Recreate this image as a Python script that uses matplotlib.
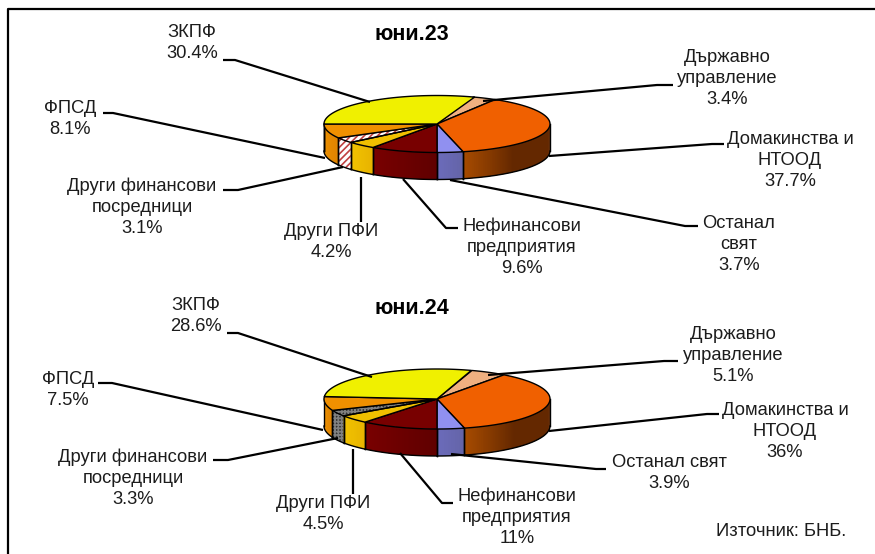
import numpy as np
import matplotlib
matplotlib.use('Agg')
import matplotlib.pyplot as plt

plt.rcParams['font.family'] = ['Liberation Sans', 'DejaVu Sans']

# Slices run clockwise, starting at the government slice
categories = ['Държавно управление', 'Домакинства и НТООД', 'Останал свят',
              'Нефинансови предприятия', 'Други ПФИ',
              'Други финансови посредници', 'ФПСД', 'ЗКПФ']
values_23 = [3.4, 37.7, 3.7, 9.6, 4.2, 3.1, 8.1, 30.4]
values_24 = [5.1, 36.0, 3.9, 11.0, 4.5, 3.3, 7.5, 28.6]
value_labels_23 = ['3.4%', '37.7%', '3.7%', '9.6%', '4.2%', '3.1%', '8.1%', '30.4%']
value_labels_24 = ['5.1%', '36%', '3.9%', '11%', '4.5%', '3.3%', '7.5%', '28.6%']

top_colors = ['#F0B080', '#F06000', '#9090F0', '#780000', '#F0C000', '#FFFFFF', '#F09000', '#F0F000']
wall_left = ['#F0B080', '#A84C00', '#6C6CBC', '#7A0000', '#F2C400', '#FFFFFF', '#F09400', '#F0F000']
wall_right = ['#F0B080', '#642800', '#6464A8', '#600000', '#E8B400', '#FFFFFF', '#E08400', '#F0F000']

CX = 437
RX = 113
DEPTH = 27


def point(angle, cy, ry, drop=0):
    # angle in degrees clockwise from the top of the pie
    a = np.radians(angle)
    return CX + RX * np.sin(a), cy - ry * np.cos(a) + drop


def arc(a0, a1, cy, ry, drop=0):
    angles = np.linspace(a0, a1, max(int(abs(a1 - a0) * 2), 2))
    return point(angles, cy, ry, drop)


def draw_pie(ax, values, cy, ry, start, hatch_face, hatch_edge, hatch):
    edges = start + np.cumsum([0] + values) * 3.6

    # walls, only the front half can be seen
    for i in range(len(values)):
        a0 = max(edges[i], 90)
        a1 = min(edges[i + 1], 270)
        if a1 <= a0:
            continue
        if i == 5:
            x, y = arc(a0, a1, cy, ry)
            x2, y2 = arc(a1, a0, cy, ry, DEPTH)
            ax.fill(np.r_[x, x2], np.r_[y, y2], facecolor=hatch_face, edgecolor=hatch_edge,
                    hatch=hatch, linewidth=0, zorder=2)
        else:
            steps = np.linspace(a0, a1, int(a1 - a0) + 2)
            left = np.array(matplotlib.colors.to_rgb(wall_left[i]))
            right = np.array(matplotlib.colors.to_rgb(wall_right[i]))
            for s0, s1 in zip(steps[:-1], steps[1:]):
                # households reach the dark colour quickly, the others fade evenly
                t = (a1 - s0) / (a1 - a0)
                if i == 1:
                    t = min(t * 2.6, 1)
                color = left * (1 - t) + right * t
                if i != 1:
                    t = (s0 - a0) / (a1 - a0)
                    color = right * (1 - t) + left * t
                x, y = arc(s0, s1 + 1.5, cy, ry)
                x2, y2 = arc(s1 + 1.5, s0, cy, ry, DEPTH)
                ax.fill(np.r_[x, x2], np.r_[y, y2], color=color, linewidth=0, zorder=2)
        x, y = arc(a0, a1, cy, ry, DEPTH)
        ax.plot(x, y, color='black', lw=1, zorder=3)
        for a in (a0, a1):
            x, y = point(a, cy, ry)
            ax.plot([x, x], [y, y + DEPTH], color='black', lw=1, zorder=3)

    # top surface
    for i in range(len(values)):
        x, y = arc(edges[i], edges[i + 1], cy, ry)
        xs = np.r_[CX, x]
        ys = np.r_[cy, y]
        if i == 5:
            ax.fill(xs, ys, facecolor=hatch_face, edgecolor=hatch_edge, hatch=hatch,
                    linewidth=0, zorder=4)
            ax.fill(xs, ys, facecolor='none', edgecolor='black', linewidth=1, zorder=5)
        else:
            ax.fill(xs, ys, facecolor=top_colors[i], edgecolor='black', linewidth=1,
                    joinstyle='round', zorder=5)


def draw_leaders(ax, leaders):
    for xs, ys in leaders:
        ax.plot(xs, ys, color='black', lw=1.6, solid_capstyle='butt', zorder=6)


def draw_labels(ax, names, numbers, places):
    for name, number, (x, y) in zip(names, numbers, places):
        lines = name.split('\n') + [number]
        for k, line in enumerate(lines):
            ax.text(x, y + k * 21, line, ha='center', va='center', fontsize=13.2,
                    color='#1c1c1c', zorder=7)


names_23 = ['Държавно\nуправление', 'Домакинства и\nНТООД', 'Останал\nсвят',
            'Нефинансови\nпредприятия', 'Други ПФИ',
            'Други финансови\nпосредници', 'ФПСД', 'ЗКПФ']
names_24 = ['Държавно\nуправление', 'Домакинства и\nНТООД', 'Останал свят',
            'Нефинансови\nпредприятия', 'Други ПФИ',
            'Други финансови\nпосредници', 'ФПСД', 'ЗКПФ']

places_23 = [(727, 57.5), (790, 139.5), (739, 223.5), (522, 226.5), (331, 231.5),
             (142, 186.5), (70, 108.5), (192, 32.5)]
places_24 = [(733, 334.5), (785, 410.5), (669, 462.5), (517, 496.5), (323, 503.5),
             (133, 457.5), (68, 379.5), (196, 305.5)]

leaders_23 = [([483, 657, 673], [101, 85, 85]), ([549, 712, 724], [156, 144, 144]),
              ([450, 685, 698], [180, 226, 226]), ([403, 446, 458], [179, 228, 228]),
              ([361, 361], [177, 222]), ([343, 238, 223], [167, 190, 190]),
              ([325, 113, 103], [158, 113, 113]), ([370, 235, 223], [102, 60, 60])]
leaders_24 = [([488, 664, 678], [375, 361, 361]), ([549, 707, 719], [431, 414, 414]),
              ([451, 596, 606], [454, 469, 469]), ([400, 442, 453], [453, 503, 503]),
              ([353, 353], [449, 494]), ([338, 228, 213], [438, 460, 460]),
              ([323, 112, 98], [430, 383, 383]), ([372, 238, 227], [377, 333, 333])]

fig = plt.figure(figsize=(8.75, 5.54), dpi=100, facecolor='white')
ax = fig.add_axes([0, 0, 1, 1])
ax.set_xlim(0, 875)
ax.set_ylim(554, 0)
ax.axis('off')

# frame of the chart, only the top and left sides are in the picture
ax.plot([8, 8, 875], [554, 9, 9], color='black', lw=1.6, zorder=1)

plt.rcParams['hatch.linewidth'] = 1.2
draw_pie(ax, values_23, 124, 28.5, 18.7, 'white', '#C04040', '/////')
draw_pie(ax, values_24, 399, 30, 18, '#303030', '#808080', '+++++')
draw_leaders(ax, leaders_23)
draw_leaders(ax, leaders_24)
draw_labels(ax, names_23, value_labels_23, places_23)
draw_labels(ax, names_24, value_labels_24, places_24)

ax.text(412, 34.5, 'юни.23', ha='center', va='center', fontsize=15.5, fontweight='bold', color='black')
ax.text(412, 309, 'юни.24', ha='center', va='center', fontsize=15.5, fontweight='bold', color='black')
ax.text(781, 532, 'Източник: БНБ.', ha='center', va='center', fontsize=13.2, color='#1c1c1c')

fig.savefig('out.png', dpi=100)
